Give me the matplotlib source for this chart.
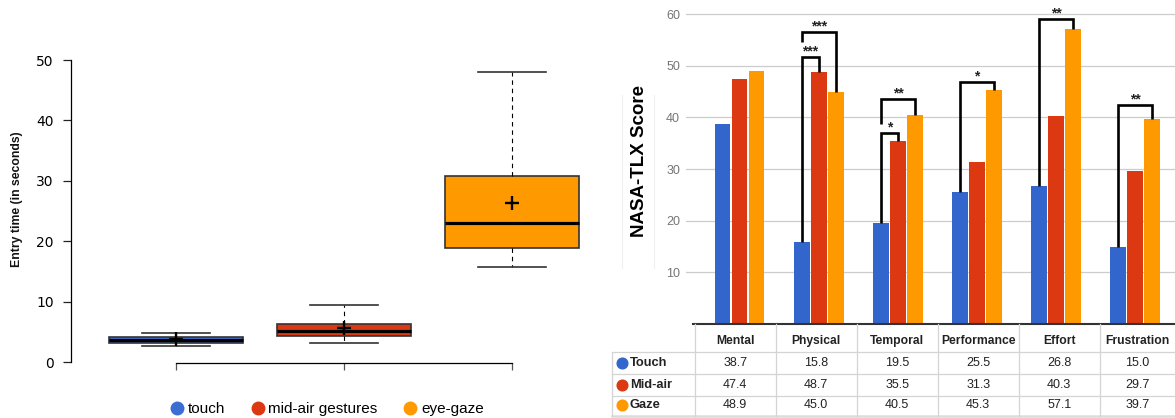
import matplotlib
matplotlib.use("Agg")
import matplotlib.pyplot as plt
from matplotlib.lines import Line2D
import numpy as np

plt.rcParams['font.family'] = ['Liberation Sans', 'DejaVu Sans']

# ---------------- data: entry time box plot (left) ----------------
box_labels = ['touch', 'mid-air gestures', 'eye-gaze']
box_whislo = [2.7, 3.25, 15.8]
box_q1 = [3.25, 4.3, 18.95]
box_med = [3.7, 5.2, 23.05]
box_q3 = [4.2, 6.3, 30.8]
box_whishi = [4.85, 9.4, 47.95]
box_mean = [3.85, 5.7, 26.4]
entry_yticks = [0, 10, 20, 30, 40, 50]

# ---------------- data: NASA-TLX (right) ----------------
tlx_categories = ['Mental', 'Physical', 'Temporal', 'Performance', 'Effort', 'Frustration']
tlx_series = ['Touch', 'Mid-air', 'Gaze']
tlx_touch = [38.7, 15.8, 19.5, 25.5, 26.8, 15.0]
tlx_midair = [47.4, 48.7, 35.5, 31.3, 40.3, 29.7]
tlx_gaze = [48.9, 45.0, 40.5, 45.3, 57.1, 39.7]
tlx_yticks = [10, 20, 30, 40, 50, 60]

# significance brackets
sig_cat = [1, 1, 2, 2, 3, 4, 5]
sig_a = [0, 0, 0, 0, 0, 0, 0]
sig_b = [1, 2, 1, 2, 2, 2, 2]
sig_top = [51.7, 56.45, 36.9, 43.6, 46.8, 59.0, 42.3]
sig_leg_from = [None, 54.6, None, 38.65, None, None, None]
sig_label = ['***', '***', '*', '**', '*', '**', '**']

colors_left = ['#3b6dd2', '#dc3912', '#ff9900']
colors_right = ['#3366cc', '#dc3912', '#ff9900']

W, H = 1175, 418
fig = plt.figure(figsize=(W / 100, H / 100), dpi=100)
fig.patch.set_facecolor('white')


def fx(px):
    return px / W


def fy(py):
    return 1 - py / H


# ================= left: box plot =================
axL = fig.add_axes([fx(71), fy(363.3), fx(596 - 71), (363.3 - 54) / H])
stats = []
for i in range(3):
    stats.append(dict(whislo=box_whislo[i], q1=box_q1[i], med=box_med[i],
                      q3=box_q3[i], whishi=box_whishi[i], mean=box_mean[i],
                      fliers=[], label=box_labels[i]))
bp = axL.bxp(stats, positions=[1, 2, 3], widths=0.8, capwidths=0.405,
             patch_artist=True, showmeans=True, meanline=False,
             boxprops=dict(edgecolor='#333333', linewidth=1.2),
             medianprops=dict(color='black', linewidth=2.3),
             whiskerprops=dict(color='black', linewidth=0.8, linestyle=(0, (4, 3.5))),
             capprops=dict(color='#333333', linewidth=1.2),
             meanprops=dict(marker='+', markeredgecolor='black', markerfacecolor='black',
                            markersize=10, markeredgewidth=1.7))
for patch, c in zip(bp['boxes'], colors_left):
    patch.set_facecolor(c)

axL.set_xlim(0.375, 3.5)
axL.set_ylim(-0.165, 51.0)
for s in ['top', 'right']:
    axL.spines[s].set_visible(False)
axL.spines['left'].set_bounds(0, 50)
axL.spines['bottom'].set_bounds(1, 3)
axL.spines['left'].set_linewidth(0.9)
axL.spines['bottom'].set_linewidth(0.9)
axL.set_yticks(entry_yticks)
axL.set_yticklabels([str(v) for v in entry_yticks], fontsize=10, family='DejaVu Sans')
axL.tick_params(axis='y', length=5.5, width=0.9, pad=7, color='#222222')
axL.set_xticks([1, 2, 3])
axL.set_xticklabels(['', '', ''])
axL.tick_params(axis='x', length=5, width=0.9, color='#555555')

fig.text(fx(16.7), fy(199), 'Entry time (in seconds)', rotation=90,
         ha='center', va='center', fontsize=8.8, fontweight='bold', color='#111111')

handles = [Line2D([], [], marker='o', linestyle='', markersize=9,
                  markerfacecolor=c, markeredgecolor=c) for c in colors_left]
fig.legend(handles, box_labels, loc='center', bbox_to_anchor=(fx(326.5), fy(409)),
           ncol=3, frameon=False, fontsize=11, handlelength=1.0, handletextpad=0.2,
           columnspacing=1.65, borderpad=0, borderaxespad=0)

# ================= right: NASA-TLX bars =================
axR = fig.add_axes([fx(686), fy(324), fx(1175 - 686), 324 / H])
x = np.arange(len(tlx_categories))
step = 0.215
bw = 0.196
series_vals = [tlx_touch, tlx_midair, tlx_gaze]
for k, (vals, c) in enumerate(zip(series_vals, colors_right)):
    axR.bar(x + (k - 1) * step, vals, width=bw, color=c, zorder=2)

axR.set_xlim(-0.679, 5.503)
axR.set_ylim(0, 62.71)
axR.set_yticks(tlx_yticks)
axR.set_yticklabels([str(v) for v in tlx_yticks])
axR.tick_params(axis='y', length=0, pad=4.3, labelsize=9, labelcolor='#757575')
axR.set_xticks([])
axR.yaxis.grid(True, color='#cccccc', linewidth=0.9)
axR.set_axisbelow(True)
for s in ['top', 'right', 'left']:
    axR.spines[s].set_visible(False)
axR.spines['bottom'].set_color('#333333')
axR.spines['bottom'].set_linewidth(1.5)
axR.spines['bottom'].set_bounds(-0.59, 5.503)
axR.spines['bottom'].set_zorder(3)

for cat, a, b, top, leg, lab in zip(sig_cat, sig_a, sig_b, sig_top, sig_leg_from, sig_label):
    xa = cat + (a - 1) * step
    xb = cat + (b - 1) * step
    ya0 = series_vals[a][cat] if leg is None else leg
    yb0 = series_vals[b][cat]
    axR.plot([xa, xa, xb, xb], [ya0, top, top, yb0], color='black', linewidth=1.9,
             solid_joinstyle='miter', solid_capstyle='butt', zorder=4, clip_on=False)
    axR.annotate(lab, xy=((xa + xb) / 2, top), xytext=(0, 1.2), textcoords='offset points',
                 ha='center', va='baseline', fontsize=10, fontweight='bold', color='#222222',
                 annotation_clip=False)

# faint frame around the y label (as in the reference screenshot)
for xl in (621.7, 654.3):
    fig.add_artist(Line2D([fx(xl), fx(xl)], [fy(95), fy(268)], color='#efefef', lw=0.8))
fig.text(fx(639), fy(161), 'NASA-TLX Score', rotation=90, ha='center', va='center',
         fontsize=13.5, fontweight='bold', color='black')

# ================= right: data table =================
axT = fig.add_axes([fx(600), 0, fx(575), 94 / H])
axT.set_xlim(600, 1175)
axT.set_ylim(418, 324)
axT.axis('off')
col_edges = [694.7, 775.7, 856.7, 937.7, 1018.7, 1099.7, 1175]
row_edges = [324, 351.7, 374, 395.7, 415.7]
label_left = 612.3
line_c = '#d4d4d4'
for yy in row_edges[1:4]:
    axT.plot([label_left, 1175], [yy, yy], color=line_c, lw=0.9, clip_on=False)
axT.plot([label_left, 1175], [row_edges[4], row_edges[4]], color='#dcdcdc', lw=1.8, clip_on=False)
for xx in col_edges[:-1]:
    axT.plot([xx, xx], [row_edges[0], row_edges[4]], color=line_c, lw=0.9, clip_on=False)
axT.plot([label_left, label_left], [row_edges[1], row_edges[4]], color=line_c, lw=0.9)

col_centers = [(col_edges[i] + col_edges[i + 1]) / 2 for i in range(len(tlx_categories))]
for cc, name in zip(col_centers, tlx_categories):
    axT.text(cc, 341.3, name, ha='center', va='center', fontsize=8.7,
             fontweight='bold', color='#222222')
row_centers = [362.8, 384.6, 405.4]
for r, (sname, vals, c) in enumerate(zip(tlx_series, series_vals, colors_right)):
    yy = row_centers[r]
    axT.plot([621.7], [yy], marker='o', markersize=7.7, color=c, linestyle='')
    axT.text(630, yy, sname, ha='left', va='center', fontsize=9.3,
             fontweight='bold', color='#222222')
    for cc, v in zip(col_centers, vals):
        axT.text(cc, yy, f'{v:.1f}', ha='center', va='center', fontsize=9, color='#222222')

fig.savefig('out.png', dpi=100)
